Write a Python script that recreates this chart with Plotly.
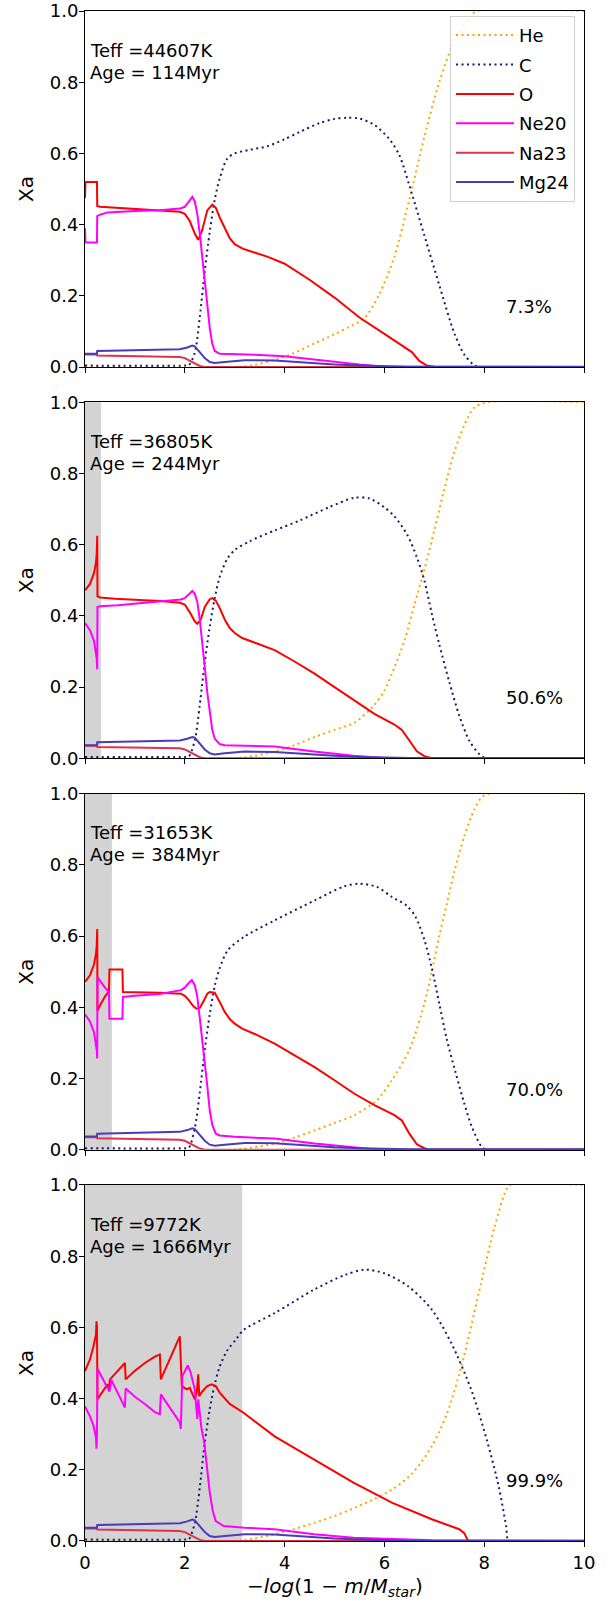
import plotly.graph_objects as go

# ---------------- data ----------------
panel_teff = ["44607", "36805", "31653", "9772"]
panel_age = ["114", "244", "384", "1666"]
panel_pct = ["7.3%", "50.6%", "70.0%", "99.9%"]
conv_edge = [0.0, 0.32, 0.54, 3.15]          # extent of grey (convective) zone
x_ticks = [0, 2, 4, 6, 8, 10]
y_ticks = [0.0, 0.2, 0.4, 0.6, 0.8, 1.0]
y_tick_text = ["0.0", "0.2", "0.4", "0.6", "0.8", "1.0"]
x_title = "−<i>log</i>(1 − <i>m</i>/<i>M</i><sub><i>star</i></sub>)"

# shared minor species
mg_x = [0, 0.24, 0.245, 1.0, 1.9, 2.05, 2.15, 2.2, 2.3, 2.4, 2.5, 2.6, 2.8, 3.2, 3.8, 4.5, 5.0, 5.5, 6.0, 6.5, 10]
mg_y = [0.037, 0.037, 0.045, 0.047, 0.05, 0.055, 0.06, 0.058, 0.042, 0.025, 0.014, 0.011, 0.014, 0.019, 0.018, 0.011, 0.007, 0.004, 0.002, 0.001, 0.001]
na_x = [0, 0.24, 0.245, 1.0, 1.9, 2.0, 2.1, 2.2, 2.3, 2.4, 10]
na_y = [0.035, 0.035, 0.032, 0.031, 0.028, 0.025, 0.018, 0.009, 0.003, 0.0, 0.0]

# panel 1
he1_x = [0, 3.0, 3.4, 3.8, 4.2, 4.6, 5.0, 5.3, 5.6, 5.9, 6.2, 6.5, 6.8, 7.1, 7.4, 7.7, 7.85, 10]
he1_y = [0.0, 0.0, 0.006, 0.02, 0.04, 0.066, 0.092, 0.113, 0.137, 0.205, 0.31, 0.47, 0.645, 0.80, 0.915, 0.98, 1.0, 1.0]
c1_x = [0, 2.0, 2.08, 2.2, 2.3, 2.4, 2.5, 2.6, 2.7, 2.85, 3.0, 3.3, 3.65, 4.0, 4.3, 4.7, 5.0, 5.25, 5.5, 5.8, 6.1, 6.3, 6.5, 6.8, 7.1, 7.4, 7.6, 7.8, 7.9, 10]
c1_y = [0.004, 0.004, 0.005, 0.04, 0.14, 0.27, 0.38, 0.47, 0.53, 0.585, 0.6, 0.61, 0.62, 0.64, 0.66, 0.685, 0.697, 0.70, 0.698, 0.68, 0.64, 0.595, 0.51, 0.37, 0.23, 0.095, 0.035, 0.005, 0.0, 0.0]
o1_x = [0, 0.01, 0.24, 0.245, 0.3, 1.0, 1.5, 1.9, 2.0, 2.1, 2.2, 2.27, 2.35, 2.45, 2.55, 2.62, 2.7, 2.8, 2.9, 3.0, 3.15, 3.3, 3.65, 4.0, 4.5, 5.0, 5.5, 6.0, 6.4, 6.55, 6.7, 6.85, 7.0, 7.2, 10]
o1_y = [0.475, 0.52, 0.52, 0.452, 0.45, 0.443, 0.44, 0.436, 0.43, 0.41, 0.375, 0.357, 0.385, 0.44, 0.456, 0.448, 0.42, 0.39, 0.362, 0.345, 0.333, 0.326, 0.31, 0.29, 0.245, 0.195, 0.139, 0.093, 0.056, 0.042, 0.017, 0.004, 0.001, 0.0, 0.0]
ne1_x = [0, 0.01, 0.24, 0.245, 0.3, 0.45, 1.0, 1.5, 1.9, 2.0, 2.1, 2.15, 2.2, 2.25, 2.3, 2.35, 2.4, 2.45, 2.5, 2.55, 2.6, 2.7, 3.0, 3.5, 4.0, 4.5, 5.0, 5.5, 6.0, 10]
ne1_y = [0.39, 0.35, 0.35, 0.424, 0.428, 0.434, 0.438, 0.44, 0.445, 0.45, 0.468, 0.478, 0.465, 0.43, 0.375, 0.31, 0.245, 0.17, 0.11, 0.066, 0.045, 0.037, 0.036, 0.034, 0.03, 0.022, 0.014, 0.007, 0.001, 0.0]

# panel 2
he2_x = [0, 3.0, 3.4, 3.8, 4.2, 4.6, 5.0, 5.4, 5.8, 6.0, 6.2, 6.4, 6.6, 6.8, 7.0, 7.2, 7.4, 7.6, 7.8, 8.05, 10]
he2_y = [0, 0, 0.007, 0.019, 0.037, 0.06, 0.08, 0.1, 0.15, 0.19, 0.255, 0.33, 0.43, 0.53, 0.64, 0.755, 0.86, 0.935, 0.985, 1.0, 1.0]
c2_x = [0, 2.0, 2.08, 2.2, 2.3, 2.4, 2.5, 2.6, 2.7, 2.85, 3.0, 3.3, 3.8, 4.3, 4.9, 5.4, 5.7, 6.0, 6.2, 6.45, 6.65, 6.8, 6.95, 7.1, 7.3, 7.5, 7.7, 7.9, 8.05, 10]
c2_y = [0.004, 0.004, 0.005, 0.05, 0.15, 0.27, 0.37, 0.45, 0.51, 0.56, 0.585, 0.61, 0.64, 0.668, 0.706, 0.732, 0.73, 0.705, 0.68, 0.63, 0.565, 0.5, 0.406, 0.32, 0.215, 0.12, 0.05, 0.012, 0.0, 0.0]
o2_x = [0, 0.1, 0.18, 0.22, 0.235, 0.245, 0.25, 0.3, 0.6, 1.0, 1.5, 1.9, 2.0, 2.1, 2.2, 2.25, 2.32, 2.4, 2.5, 2.55, 2.62, 2.7, 2.8, 2.9, 3.0, 3.15, 3.4, 3.8, 4.2, 4.6, 5.0, 5.4, 5.8, 6.2, 6.35, 6.5, 6.65, 6.8, 6.95, 10]
o2_y = [0.472, 0.49, 0.52, 0.55, 0.575, 0.625, 0.455, 0.452, 0.448, 0.446, 0.442, 0.437, 0.432, 0.41, 0.385, 0.378, 0.39, 0.425, 0.447, 0.45, 0.443, 0.422, 0.39, 0.366, 0.352, 0.338, 0.325, 0.304, 0.272, 0.238, 0.2, 0.163, 0.125, 0.095, 0.08, 0.05, 0.02, 0.006, 0.0, 0.0]
ne2_x = [0, 0.1, 0.18, 0.22, 0.235, 0.245, 0.25, 0.3, 0.66, 1.2, 1.92, 2.0, 2.08, 2.15, 2.2, 2.25, 2.3, 2.35, 2.4, 2.45, 2.5, 2.55, 2.6, 2.7, 2.8, 3.2, 3.8, 4.59, 5.38, 6.0, 10]
ne2_y = [0.38, 0.36, 0.33, 0.30, 0.28, 0.25, 0.425, 0.427, 0.43, 0.437, 0.446, 0.45, 0.462, 0.47, 0.462, 0.44, 0.39, 0.33, 0.257, 0.185, 0.126, 0.08, 0.055, 0.04, 0.037, 0.036, 0.033, 0.019, 0.007, 0.001, 0.0]

# panel 3
he3_x = [0, 3.0, 3.4, 3.8, 4.2, 4.6, 5.0, 5.4, 5.85, 6.15, 6.5, 6.8, 6.95, 7.1, 7.25, 7.4, 7.6, 7.8, 7.95, 8.1, 10]
he3_y = [0, 0, 0.007, 0.017, 0.034, 0.054, 0.075, 0.097, 0.139, 0.195, 0.28, 0.41, 0.5, 0.6, 0.69, 0.78, 0.88, 0.955, 0.99, 1.0, 1.0]
c3_x = [0, 2.0, 2.08, 2.2, 2.3, 2.4, 2.5, 2.6, 2.7, 2.86, 3.18, 3.8, 4.6, 5.2, 5.5, 5.85, 6.15, 6.45, 6.62, 6.8, 6.95, 7.1, 7.25, 7.42, 7.6, 7.75, 7.95, 8.05, 10]
c3_y = [0.004, 0.004, 0.005, 0.06, 0.16, 0.28, 0.38, 0.46, 0.51, 0.56, 0.597, 0.644, 0.7, 0.74, 0.747, 0.738, 0.71, 0.685, 0.655, 0.59, 0.51, 0.41, 0.31, 0.22, 0.13, 0.065, 0.008, 0.0, 0.0]
o3_x = [0, 0.1, 0.18, 0.22, 0.235, 0.245, 0.25, 0.3, 0.4, 0.48, 0.49, 0.75, 0.76, 1.0, 1.5, 1.92, 2.0, 2.08, 2.16, 2.23, 2.3, 2.38, 2.45, 2.5, 2.6, 2.7, 2.8, 2.9, 3.0, 3.15, 3.4, 3.8, 4.2, 4.6, 5.0, 5.4, 5.8, 6.2, 6.35, 6.5, 6.65, 6.8, 6.9, 10]
o3_y = [0.471, 0.49, 0.52, 0.55, 0.575, 0.62, 0.39, 0.405, 0.43, 0.445, 0.506, 0.506, 0.443, 0.443, 0.441, 0.438, 0.432, 0.42, 0.405, 0.396, 0.398, 0.418, 0.438, 0.443, 0.441, 0.415, 0.387, 0.367, 0.354, 0.34, 0.325, 0.298, 0.265, 0.232, 0.195, 0.157, 0.125, 0.097, 0.082, 0.045, 0.015, 0.004, 0.0, 0.0]
ne3_x = [0, 0.1, 0.18, 0.22, 0.235, 0.245, 0.25, 0.3, 0.4, 0.48, 0.49, 0.75, 0.76, 1.0, 1.5, 1.92, 2.0, 2.08, 2.14, 2.2, 2.25, 2.3, 2.35, 2.4, 2.45, 2.5, 2.55, 2.62, 2.7, 3.0, 3.8, 4.6, 5.4, 5.9, 10]
ne3_y = [0.38, 0.36, 0.33, 0.30, 0.28, 0.256, 0.485, 0.475, 0.455, 0.443, 0.368, 0.368, 0.429, 0.432, 0.437, 0.448, 0.455, 0.468, 0.476, 0.462, 0.43, 0.37, 0.31, 0.25, 0.18, 0.11, 0.07, 0.045, 0.04, 0.036, 0.031, 0.017, 0.006, 0.0, 0.0]

# panel 4
he4_x = [0, 3.0, 3.4, 3.8, 4.2, 4.6, 5.0, 5.4, 5.8, 6.16, 6.56, 6.95, 7.26, 7.58, 7.89, 8.21, 8.44, 8.52, 10]
he4_y = [0, 0, 0.007, 0.019, 0.034, 0.051, 0.07, 0.093, 0.118, 0.145, 0.19, 0.266, 0.36, 0.51, 0.696, 0.883, 0.986, 1.0, 1.0]
c4_x = [0, 2.0, 2.08, 2.2, 2.3, 2.4, 2.5, 2.6, 2.7, 2.85, 3.02, 3.18, 3.8, 4.59, 5.22, 5.61, 6.0, 6.48, 6.95, 7.34, 7.74, 8.05, 8.29, 8.44, 8.5, 10]
c4_y = [0.004, 0.004, 0.005, 0.05, 0.15, 0.276, 0.37, 0.44, 0.49, 0.535, 0.565, 0.593, 0.64, 0.706, 0.748, 0.762, 0.752, 0.715, 0.65, 0.556, 0.425, 0.285, 0.154, 0.042, 0.0, 0.0]
o4_x = [0, 0.1, 0.17, 0.22, 0.23, 0.24, 0.25, 0.45, 0.48, 0.5, 0.8, 0.815, 1.0, 1.2, 1.4, 1.5, 1.52, 1.7, 1.9, 1.94, 2.04, 2.1, 2.14, 2.2, 2.24, 2.27, 2.29, 2.35, 2.45, 2.54, 2.62, 2.7, 2.9, 3.17, 3.8, 4.59, 5.38, 6.16, 6.95, 7.5, 7.6, 7.66, 7.7, 10]
o4_y = [0.477, 0.51, 0.547, 0.58, 0.617, 0.6, 0.398, 0.44, 0.43, 0.454, 0.5, 0.454, 0.478, 0.5, 0.518, 0.524, 0.454, 0.51, 0.575, 0.435, 0.426, 0.43, 0.417, 0.398, 0.417, 0.468, 0.407, 0.42, 0.435, 0.44, 0.435, 0.417, 0.385, 0.361, 0.294, 0.229, 0.164, 0.107, 0.061, 0.033, 0.022, 0.005, 0.0, 0.0]
ne4_x = [0, 0.1, 0.17, 0.22, 0.23, 0.24, 0.25, 0.49, 0.53, 0.8, 0.815, 1.0, 1.2, 1.4, 1.5, 1.52, 1.9, 1.92, 1.95, 2.06, 2.12, 2.2, 2.25, 2.27, 2.33, 2.39, 2.45, 2.5, 2.56, 2.62, 2.78, 3.2, 3.8, 4.59, 5.38, 6.16, 6.95, 10]
ne4_y = [0.378, 0.35, 0.324, 0.29, 0.259, 0.3, 0.484, 0.42, 0.452, 0.375, 0.428, 0.405, 0.385, 0.362, 0.356, 0.412, 0.333, 0.315, 0.463, 0.493, 0.472, 0.426, 0.342, 0.398, 0.32, 0.276, 0.2, 0.136, 0.085, 0.056, 0.042, 0.037, 0.033, 0.019, 0.009, 0.005, 0.002, 0.001]

panels = [
    {"He": (he1_x, he1_y), "C": (c1_x, c1_y), "O": (o1_x, o1_y), "Ne20": (ne1_x, ne1_y), "Na23": (na_x, na_y), "Mg24": (mg_x, mg_y)},
    {"He": (he2_x, he2_y), "C": (c2_x, c2_y), "O": (o2_x, o2_y), "Ne20": (ne2_x, ne2_y), "Na23": (na_x, na_y), "Mg24": (mg_x, mg_y)},
    {"He": (he3_x, he3_y), "C": (c3_x, c3_y), "O": (o3_x, o3_y), "Ne20": (ne3_x, ne3_y), "Na23": (na_x, na_y), "Mg24": (mg_x, mg_y)},
    {"He": (he4_x, he4_y), "C": (c4_x, c4_y), "O": (o4_x, o4_y), "Ne20": (ne4_x, ne4_y), "Na23": (na_x, na_y), "Mg24": (mg_x, mg_y)},
]

# ---------------- styles ----------------
species = ["He", "C", "O", "Ne20", "Na23", "Mg24"]
colors = {"He": "#FFA500", "C": "#191970", "O": "#FF0000", "Ne20": "#FF00FF", "Na23": "#DC3250", "Mg24": "#4A3CB8"}
dashes = {"He": "2px,3.5px", "C": "2px,3.5px", "O": "solid", "Ne20": "solid", "Na23": "solid", "Mg24": "solid"}
shapes_ = {"He": "spline", "C": "spline", "O": "linear", "Ne20": "linear", "Na23": "linear", "Mg24": "linear"}

FONT = "DejaVu Sans"
W, H = 616, 1604
M_L, M_R, M_T, M_B = 85, 32, 11, 63
PANEL_H = 356.0
GAP = 35.33
plot_h = H - M_T - M_B

fig = go.Figure()
layout = dict(
    width=W, height=H,
    margin=dict(l=M_L, r=M_R, t=M_T, b=M_B),
    paper_bgcolor="white", plot_bgcolor="white",
    font=dict(family=FONT, size=18, color="black"),
    showlegend=True,
    legend=dict(x=0.982, y=0.9968, xanchor="right", yanchor="top",
                bgcolor="rgba(255,255,255,0.85)", bordercolor="#D0D0D0", borderwidth=1,
                font=dict(family=FONT, size=18, color="black"), tracegroupgap=3,
                itemwidth=58),
)
annotations = []
shapes = []

for i, pdata in enumerate(panels):
    n = i + 1
    xa = "x" if n == 1 else f"x{n}"
    ya = "y" if n == 1 else f"y{n}"
    top_px = M_T + i * (PANEL_H + GAP)
    bot_px = top_px + PANEL_H
    dom = [(H - M_B - bot_px) / plot_h, (H - M_B - top_px) / plot_h]
    last = (n == 4)
    layout["xaxis" if n == 1 else f"xaxis{n}"] = dict(
        domain=[0, 1], anchor=ya, range=[0, 10], tickvals=x_ticks,
        showticklabels=last, ticks="outside", ticklen=5, tickwidth=1, tickcolor="black",
        showline=True, linecolor="black", linewidth=1, mirror=True,
        showgrid=False, zeroline=False, automargin=False,
        tickfont=dict(family=FONT, size=18, color="black"),
    )
    layout["yaxis" if n == 1 else f"yaxis{n}"] = dict(
        domain=dom, anchor=xa, range=[0, 1], tickvals=y_ticks, ticktext=y_tick_text,
        ticks="outside", ticklen=5, tickwidth=1, tickcolor="black",
        showline=True, linecolor="black", linewidth=1, mirror=True,
        showgrid=False, zeroline=False, automargin=False, ticklabelstandoff=-3,
        tickfont=dict(family=FONT, size=18, color="black"),
        title=dict(text="Xa", font=dict(family=FONT, size=20, color="black"), standoff=10),
    )
    if conv_edge[i] > 0:
        shapes.append(dict(type="rect", xref=xa, yref=f"{ya} domain", x0=0, x1=conv_edge[i],
                           y0=0, y1=1, fillcolor="#D3D3D3", line=dict(width=0), layer="below"))
    for sp in species:
        xs, ys = pdata[sp]
        fig.add_trace(go.Scatter(
            x=xs, y=ys, mode="lines", name=sp, xaxis=xa, yaxis=ya,
            line=dict(color=colors[sp], dash=dashes[sp], width=2, shape=shapes_[sp],
                      smoothing=0.8 if shapes_[sp] == "spline" else None),
            showlegend=(n == 1), legendgroup=sp,
        ))
    annotations.append(dict(x=0.06, y=0.89, xref=xa, yref=ya, text=f"Teff ={panel_teff[i]}K",
                            showarrow=False, xanchor="left", yanchor="middle",
                            font=dict(family=FONT, size=18, color="black")))
    annotations.append(dict(x=0.06, y=0.828, xref=xa, yref=ya, text=f"Age = {panel_age[i]}Myr",
                            showarrow=False, xanchor="left", yanchor="middle",
                            font=dict(family=FONT, size=18, color="black")))
    annotations.append(dict(x=8.4, y=0.17, xref=xa, yref=ya, text=panel_pct[i],
                            showarrow=False, xanchor="left", yanchor="middle",
                            font=dict(family=FONT, size=18, color="black")))
    if last:
        annotations.append(dict(x=0.5, y=0, xref=f"{xa} domain", yref=f"{ya} domain",
                                text=x_title, showarrow=False, xanchor="center",
                                yanchor="middle", yshift=-46,
                                font=dict(family=FONT, size=20, color="black")))

layout["annotations"] = annotations
layout["shapes"] = shapes
fig.update_layout(**layout)
fig.write_html("out.html", config={"displayModeBar": False},
               post_script="document.body.style.margin='0px';document.body.style.padding='0px';")
